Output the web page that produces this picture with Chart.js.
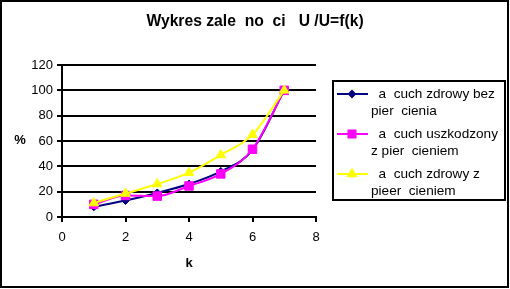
<!DOCTYPE html>
<html>
<head>
<meta charset="utf-8">
<script src="https://cdn.jsdelivr.net/npm/chart.js@4/dist/chart.umd.min.js"></script>
<style>
  html, body { margin: 0; padding: 0; background: #fff; }
  #wrap { width: 510px; height: 289px; }
</style>
</head>
<body>
<div id="wrap"><canvas id="chart" width="510" height="289"></canvas></div>
<script>
// --- Dane wykresu ---
const kValues = [1, 2, 3, 4, 5, 6, 7];
const zdrowyBez = [8, 13, 19, 26, 36, 53, 100];
const uszkodzony = [10, 17, 16.5, 24.5, 34, 53.5, 100];
const zdrowyZ = [11, 18.5, 26, 35, 49, 65, 100];
const seriesNames = [
    '  a  cuch zdrowy bez\npier  cienia',
    '  a  cuch uszkodzony\nz pier  cieniem',
    '  a  cuch zdrowy z\npieer  cieniem'
];
const chartTitle = 'Wykres zale  no  ci   U /U=f(k)';
const xTitle = 'k';
const yTitle = '%';

const FONT = 'Arial, "Liberation Sans", sans-serif';

function toPoints(values) {
    return values.map((v, i) => ({ x: kValues[i], y: v }));
}

// Rysuje tytuł, opisy osi, legendę i ramkę
const decorPlugin = {
    id: 'decor',
    afterDraw(chart) {
        const ctx = chart.ctx;
        ctx.save();
        ctx.fillStyle = '#000';
        ctx.textBaseline = 'middle';

        ctx.font = 'bold 15.7px ' + FONT;
        ctx.textAlign = 'center';
        ctx.fillText(chartTitle, 255, 22);

        ctx.font = 'bold 13px ' + FONT;
        ctx.fillText(yTitle, 20, 140);
        ctx.fillText(xTitle, 189, 263);

        // legenda
        ctx.lineWidth = 2;
        ctx.strokeStyle = '#000';
        ctx.strokeRect(333, 81, 172, 119);

        ctx.font = '13.6px ' + FONT;
        ctx.textAlign = 'left';
        chart.data.datasets.forEach((ds, i) => {
            const y = 94 + i * 40;
            ctx.strokeStyle = ds.borderColor;
            ctx.lineWidth = 2;
            ctx.beginPath();
            ctx.moveTo(337, y);
            ctx.lineTo(368, y);
            ctx.stroke();
            ctx.fillStyle = ds.pointBackgroundColor;
            ctx.strokeStyle = ds.pointBorderColor;
            Chart.helpers.drawPoint(ctx, {
                pointStyle: ds.pointStyle, radius: ds.pointRadius - 1,
                rotation: 0, borderWidth: 1
            }, 352, y);
            ctx.fillStyle = '#000';
            ds.label.split('\n').forEach((line, j) => {
                ctx.fillText(line, 371, y + j * 17);
            });
        });

        // ramka wykresu
        ctx.strokeStyle = '#000';
        ctx.lineWidth = 2;
        ctx.strokeRect(1, 1, 507, 286);
        ctx.restore();
    }
};

const series = [
    { data: zdrowyBez, color: '#000080', style: 'rectRot', r: 4, order: 3 },
    { data: uszkodzony, color: '#FF00FF', style: 'rect', r: 6, order: 2 },
    { data: zdrowyZ, color: '#FFFF00', style: 'triangle', r: 5.5, order: 1 }
];

new Chart(document.getElementById('chart'), {
    type: 'line',
    data: {
        datasets: series.map((s, i) => ({
            label: seriesNames[i],
            data: toPoints(s.data),
            borderColor: s.color,
            backgroundColor: s.color,
            pointBackgroundColor: s.color,
            pointBorderColor: s.color,
            pointStyle: s.style,
            pointRadius: s.r,
            pointBorderWidth: 1,
            borderWidth: 2,
            cubicInterpolationMode: 'monotone',
            order: s.order
        }))
    },
    options: {
        responsive: false,
        animation: false,
        layout: { padding: { top: 65, right: 194, left: 0, bottom: 0 } },
        plugins: { legend: { display: false }, tooltip: { enabled: false } },
        scales: {
            x: {
                type: 'linear', min: 0, max: 8,
                ticks: { stepSize: 2, color: '#000', font: { family: FONT, size: 13 }, padding: 8, maxRotation: 0 },
                grid: { drawOnChartArea: false, drawTicks: true, tickLength: 5, color: '#000', lineWidth: 2 },
                border: { display: true, color: '#000', width: 2 },
                afterFit(scale) { scale.height = 72; }
            },
            y: {
                min: 0, max: 120,
                ticks: { stepSize: 20, color: '#000', font: { family: FONT, size: 13 }, padding: 4 },
                grid: { color: '#000', lineWidth: 2, tickLength: 5 },
                border: { display: true, color: '#000', width: 2 },
                afterFit(scale) { scale.width = 62; }
            }
        }
    },
    plugins: [decorPlugin]
});
</script>
</body>
</html>
